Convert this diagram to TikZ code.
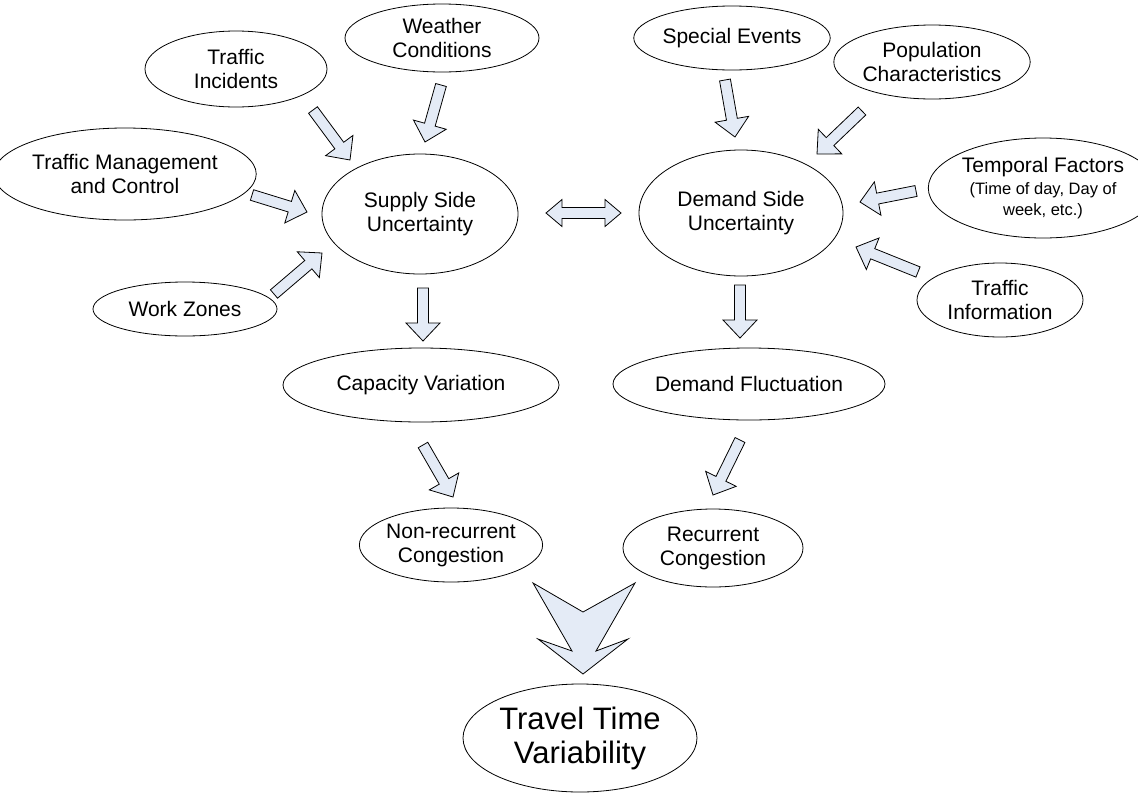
\documentclass[tikz,border=0pt]{standalone}
\usepackage{fontspec}
\setmainfont{Liberation Sans}
\usetikzlibrary{shapes.geometric,calc}
\definecolor{afill}{RGB}{228,235,246}
\newcommand\subf{\fontsize{16.5}{19.5}\selectfont}
\tikzset{
  oval/.style={draw, ellipse, inner sep=0pt, align=center,
    font=\fontsize{21}{24}\selectfont, line width=0.8pt},
  barr/.style={draw, fill=afill, line width=0.8pt, line join=miter},
}
\newcommand\blockarrow[2]{%
  \coordinate (bh) at ($(#2)!18pt!(#1)$);
  \draw[barr] ($(#1)!5.5pt!90:(#2)$) -- ($(bh)!5.5pt!90:(#2)$) -- ($(bh)!17pt!90:(#2)$)
    -- (#2) -- ($(bh)!17pt!-90:(#2)$) -- ($(bh)!5.5pt!-90:(#2)$) -- ($(#1)!5.5pt!-90:(#2)$) -- cycle;
}
\newcommand\dblarrow[2]{%
  \coordinate (bh1) at ($(#1)!16pt!(#2)$);
  \coordinate (bh2) at ($(#2)!16pt!(#1)$);
  \draw[barr] (#1) -- ($(bh1)!13.5pt!90:(#2)$) -- ($(bh1)!5.5pt!90:(#2)$) -- ($(bh2)!5.5pt!90:(#2)$)
    -- ($(bh2)!13.5pt!90:(#2)$) -- (#2) -- ($(bh2)!13.5pt!-90:(#2)$) -- ($(bh2)!5.5pt!-90:(#2)$)
    -- ($(bh1)!5.5pt!-90:(#2)$) -- ($(bh1)!13.5pt!-90:(#2)$) -- cycle;
}
\begin{document}
\begin{tikzpicture}[x=1pt, y=-1pt]
\useasboundingbox (0,0) rectangle (1138,793);

% ellipses
\node[oval, minimum width=182, minimum height=76] (ti) at (236,69) {Traffic\\Incidents};
\node[oval, minimum width=194, minimum height=68] (wc) at (442,38) {Weather\\Conditions};
\node[oval, minimum width=182, minimum height=64] (se) at (732,38) {Special Events};
\node[oval, minimum width=178, minimum height=74] (pc) at (932,62) {Population\\Characteristics};
\node[oval, minimum width=228, minimum height=92] (tm) at (125,174) {Traffic Management\\and Control};
\node[oval, minimum width=196, minimum height=120] (ss) at (420,214) {Supply Side\\Uncertainty};
\node[oval, minimum width=204, minimum height=126] (ds) at (741,213) {Demand Side\\Uncertainty};
\node[oval, minimum width=220, minimum height=100] (tf) at (1043,188)
  {Temporal Factors\\[-2pt]{\subf (Time of day, Day of}\\[-3pt]{\subf week, etc.)}};
\node[oval, minimum width=184, minimum height=54] (wz) at (185,309) {Work Zones};
\node[oval, minimum width=166, minimum height=74] (tinf) at (1000,300) {Traffic\\Information};
\node[oval, minimum width=276, minimum height=74] (cv) at (421,385) {Capacity Variation};
\node[oval, minimum width=272, minimum height=72] (df) at (749,384) {Demand Fluctuation};
\node[oval, minimum width=174, minimum height=74] (nc) at (451,545) {Non-recurrent\\Congestion};
\node[oval, minimum width=180, minimum height=78] (rc) at (713,548) {Recurrent\\Congestion};
\node[oval, minimum width=234, minimum height=108, font=\fontsize{31}{34}\selectfont] (tt) at (580,738) {Travel Time\\Variability};

% arrow end points
\coordinate (a1) at (313,110); \coordinate (b1) at (350,160);
\coordinate (a2) at (441,85);  \coordinate (b2) at (425,142);
\coordinate (a3) at (252,195); \coordinate (b3) at (307,212);
\coordinate (a4) at (274,294); \coordinate (b4) at (322,253);
\coordinate (a5) at (423,288); \coordinate (b5) at (423,341);
\coordinate (a6) at (725,80);  \coordinate (b6) at (735,137);
\coordinate (a7) at (862,111); \coordinate (b7) at (817,154);
\coordinate (a8) at (916,191); \coordinate (b8) at (860,202);
\coordinate (a9) at (918,272); \coordinate (b9) at (856,247);
\coordinate (a10) at (740,285); \coordinate (b10) at (740,338);
\coordinate (a11) at (423,445); \coordinate (b11) at (453,497);
\coordinate (a12) at (740,440); \coordinate (b12) at (713,495);
\coordinate (d1) at (546,213); \coordinate (d2) at (621,213);

\blockarrow{a1}{b1}
\blockarrow{a2}{b2}
\blockarrow{a3}{b3}
\blockarrow{a4}{b4}
\blockarrow{a5}{b5}
\blockarrow{a6}{b6}
\blockarrow{a7}{b7}
\blockarrow{a8}{b8}
\blockarrow{a9}{b9}
\blockarrow{a10}{b10}
\blockarrow{a11}{b11}
\blockarrow{a12}{b12}
\dblarrow{d1}{d2}

% big chevron arrow
\draw[barr] (533,583) -- (583,612) -- (635,583) -- (596,651) -- (628,639) -- (583,674)
  -- (538,639) -- (572,651) -- cycle;
\end{tikzpicture}
\end{document}
